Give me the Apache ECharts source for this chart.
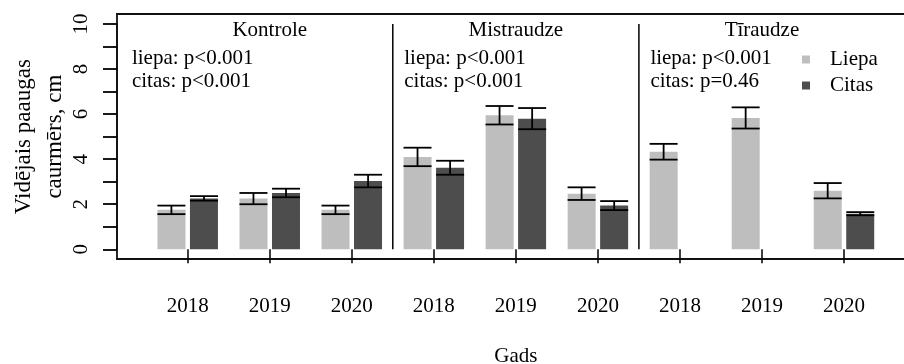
<!DOCTYPE html>
<html>
<head>
<meta charset="utf-8">
<script src="https://cdn.jsdelivr.net/npm/echarts@6/dist/echarts.min.js"></script>
<style>
  html, body { margin: 0; padding: 0; background: #fff; }
  #chart { width: 904px; height: 364px; }
</style>
</head>
<body>
<div id="chart"></div>
<script>
// Stand types (panels) and measurement years
const groups = ['Kontrole', 'Mistraudze', 'Tīraudze'];
const years = ['2018', '2019', '2020'];

// Mean leader growth (cm) and standard errors, ordered panel by panel, year by year
const liepaMean = [1.75, 2.25, 1.75, 4.10, 5.95, 2.47, 4.33, 5.83, 2.60];
const liepaSE   = [0.19, 0.25, 0.19, 0.41, 0.41, 0.28, 0.35, 0.47, 0.34];
const citasMean = [2.26, 2.50, 3.03, 3.62, 5.80, 1.94, null, null, 1.58];
const citasSE   = [0.10, 0.19, 0.28, 0.31, 0.47, 0.20, null, null, 0.07];

// Significance labels per panel
const pLiepa = ['p<0.001', 'p<0.001', 'p<0.001'];
const pCitas = ['p<0.001', 'p<0.001', 'p=0.46'];

const seriesNames = ['Liepa', 'Citas'];
const FONT = '"Liberation Serif", "Times New Roman", serif';
const LIGHT = '#BEBEBE';
const DARK = '#4D4D4D';

const categories = [];
groups.forEach(g => years.forEach(y => categories.push(g + '|' + y)));

const BAR_W = 28;
const BAR_SHIFT = 16.3;

function errData(mean, se) {
  return mean.map((m, i) => m == null ? [i, null, null] : [i, m, se[i]]);
}

function errRender(shift) {
  return function (params, api) {
    const m = api.value(1);
    const s = api.value(2);
    if (m == null || isNaN(m)) return null;
    const hi = api.coord([api.value(0), m + s]);
    const lo = api.coord([api.value(0), m - s]);
    const x = hi[0] + shift;
    const half = BAR_W / 2;
    const style = { stroke: '#000', lineWidth: 1.8 };
    return {
      type: 'group',
      children: [
        { type: 'line', shape: { x1: x, y1: hi[1], x2: x, y2: lo[1] }, style },
        { type: 'line', shape: { x1: x - half, y1: hi[1], x2: x + half, y2: hi[1] }, style },
        { type: 'line', shape: { x1: x - half, y1: lo[1], x2: x + half, y2: lo[1] }, style }
      ]
    };
  };
}

// Panel decorations: title, p-values and the separator on the right of a panel
const textStart = [-0.68, 2.64, 5.64];
function panelRender(params, api) {
  const p = api.value(0);
  const c0 = api.coord([0, 0]);
  const c1 = api.coord([1, 0]);
  const slot = c1[0] - c0[0];
  const yTitle = api.coord([0, 9.71])[1];
  const yL1 = api.coord([0, 8.46])[1];
  const yL2 = api.coord([0, 7.46])[1];
  const xMid = c0[0] + (p * 3 + 1) * slot;
  const xText = c0[0] + textStart[p] * slot;
  const txt = { font: '21px ' + FONT, fill: '#000', verticalAlign: 'middle' };
  const children = [
    { type: 'text', x: xMid, y: yTitle, style: Object.assign({ text: groups[p], align: 'center' }, txt) },
    { type: 'text', x: xText, y: yL1, style: Object.assign({ text: 'liepa: ' + pLiepa[p], align: 'left' }, txt) },
    { type: 'text', x: xText, y: yL2, style: Object.assign({ text: 'citas: ' + pCitas[p], align: 'left' }, txt) }
  ];
  if (p < groups.length - 1) {
    const xs = c0[0] + (p * 3 + 2.5) * slot;
    const top = api.coord([0, 10])[1];
    children.push({ type: 'line', shape: { x1: xs, y1: top, x2: xs, y2: c0[1] },
      style: { stroke: '#000', lineWidth: 1.5 } });
  }
  return { type: 'group', children };
}

const chart = echarts.init(document.getElementById('chart'), null, { renderer: 'canvas' });
const axisLineStyle = { color: '#111', width: 1.8 };

chart.setOption({
  animation: false,
  backgroundColor: '#fff',
  legend: {
    data: seriesNames,
    orient: 'vertical',
    left: 802,
    top: 49,
    padding: 0,
    icon: 'rect',
    itemWidth: 8,
    itemHeight: 8,
    itemGap: 5,
    textStyle: { fontFamily: FONT, fontSize: 21, color: '#000', lineHeight: 21, padding: [0, 0, 0, 15] }
  },
  grid: [
    { left: 117, right: 0, top: 14, bottom: 105, containLabel: false, outerBoundsMode: 'none' },
    { left: 146.7, right: 19, top: 24, bottom: 114.7, containLabel: false, outerBoundsMode: 'none' }
  ],
  xAxis: [
    { gridIndex: 0, type: 'value', min: 0, max: 1, position: 'bottom',
      axisLine: { show: true, lineStyle: axisLineStyle }, axisTick: { show: false },
      axisLabel: { show: false }, splitLine: { show: false } },
    { gridIndex: 0, type: 'value', min: 0, max: 1, position: 'top',
      axisLine: { show: true, lineStyle: axisLineStyle }, axisTick: { show: false },
      axisLabel: { show: false }, splitLine: { show: false } },
    { gridIndex: 1, type: 'category', data: categories, position: 'bottom', offset: 9.7,
      axisLine: { show: false },
      axisTick: { show: true, alignWithLabel: true, length: 14, lineStyle: { color: '#000', width: 1.5 } },
      axisLabel: { formatter: v => v.split('|')[1], fontFamily: FONT, fontSize: 21, color: '#000', margin: 37 },
      name: 'Gads', nameLocation: 'middle', nameGap: 87, nameMoveOverlap: false,
      nameTextStyle: { fontFamily: FONT, fontSize: 21, color: '#000' },
      splitLine: { show: false } }
  ],
  yAxis: [
    { gridIndex: 0, type: 'value', min: 0, max: 1,
      axisLine: { show: true, lineStyle: axisLineStyle }, axisTick: { show: false },
      axisLabel: { show: false }, splitLine: { show: false } },
    { gridIndex: 1, type: 'value', min: 0, max: 10, interval: 1, offset: 29.7,
      axisLine: { show: true, lineStyle: axisLineStyle },
      axisTick: { show: true, length: 14, lineStyle: { color: '#000', width: 1.8 } },
      axisLabel: { formatter: v => (v % 2 === 0 ? String(v) : ''), rotate: 90, margin: 25,
        fontFamily: FONT, fontSize: 21, color: '#000' },
      splitLine: { show: false },
      name: 'Vidējais paaugas\ncaurmērs, cm', nameLocation: 'middle', nameRotate: 90, nameGap: 47,
      nameMoveOverlap: false,
      nameTextStyle: { fontFamily: FONT, fontSize: 23, lineHeight: 31, color: '#000' } }
  ],
  series: [
    { name: seriesNames[0], type: 'bar', xAxisIndex: 2, yAxisIndex: 1, data: liepaMean,
      barWidth: BAR_W, barGap: '16%', itemStyle: { color: LIGHT } },
    { name: seriesNames[1], type: 'bar', xAxisIndex: 2, yAxisIndex: 1, data: citasMean,
      barWidth: BAR_W, barGap: '16%', itemStyle: { color: DARK } },
    { type: 'custom', xAxisIndex: 2, yAxisIndex: 1, data: errData(liepaMean, liepaSE),
      renderItem: errRender(-BAR_SHIFT), z: 5, clip: false, silent: true },
    { type: 'custom', xAxisIndex: 2, yAxisIndex: 1, data: errData(citasMean, citasSE),
      renderItem: errRender(BAR_SHIFT), z: 5, clip: false, silent: true },
    { type: 'custom', xAxisIndex: 2, yAxisIndex: 1, data: groups.map((g, i) => [i]),
      renderItem: panelRender, z: 6, clip: false, silent: true }
  ]
});
</script>
</body>
</html>
